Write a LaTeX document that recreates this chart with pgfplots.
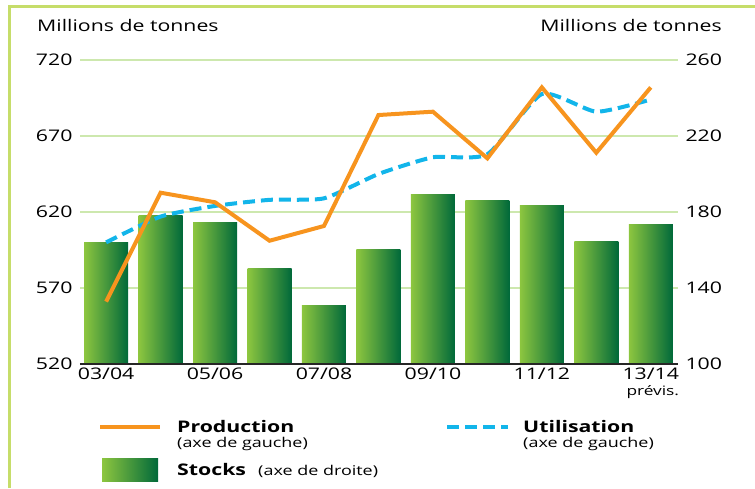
\documentclass[border=0pt]{standalone}
\usepackage{pgfplots}
\pgfplotsset{compat=1.18}
\usepackage{fontspec}
\setmainfont{Open Sans}[FakeStretch=1.33]
\definecolor{framegreen}{HTML}{C6DD6A}
\definecolor{gridgreen}{HTML}{CDE8AE}
\definecolor{stockL}{HTML}{8DC63F}
\definecolor{stockR}{HTML}{00693A}
\definecolor{prodorange}{HTML}{F7941E}
\definecolor{usecyan}{HTML}{12B5EA}
\newcommand{\lbl}{\fontsize{16}{19}\selectfont}
\newcommand{\sub}{\fontsize{13.5}{15}\selectfont}
\pgfplotsset{stk/.style={ybar, bar width=44pt, bar shift=0pt, draw=none,
    left color=stockL, right color=stockR}}

\begin{document}
\begin{tikzpicture}
\path[use as bounding box] (0pt,0pt) rectangle (755pt,-488pt);

% stocks, right axis
\begin{axis}[
    at={(80pt,-364pt)}, anchor=south west,
    scale only axis, width=598pt, height=304pt,
    xmin=-0.48, xmax=10.5,
    ymin=100, ymax=260, ytick={100,140,...,260},
    axis y line*=right, axis x line=none,
    y axis line style={draw=none},
    major tick length=0pt,
    ymajorgrids, grid style={gridgreen, line width=1.4pt},
    tick label style={font=\lbl},
    /pgf/number format/assume math mode=true,
    yticklabel style={xshift=4pt},
]
\addplot[stk] coordinates {(0,164.0)};
\addplot[stk] coordinates {(1,178.3)};
\addplot[stk] coordinates {(2,174.6)};
\addplot[stk] coordinates {(3,150.4)};
\addplot[stk] coordinates {(4,130.7)};
\addplot[stk] coordinates {(5,160.2)};
\addplot[stk] coordinates {(6,189.1)};
\addplot[stk] coordinates {(7,186.1)};
\addplot[stk] coordinates {(8,183.3)};
\addplot[stk] coordinates {(9,164.6)};
\addplot[stk] coordinates {(10,173.3)};
\end{axis}

% production and utilisation, left axis
\begin{axis}[
    at={(80pt,-364pt)}, anchor=south west,
    scale only axis, width=598pt, height=304pt,
    xmin=-0.48, xmax=10.5,
    ymin=520, ymax=720, ytick={520,570,...,720},
    axis y line*=left, axis x line*=bottom,
    y axis line style={draw=none},
    x axis line style={-, line width=2.4pt, black!85},
    major tick length=0pt,
    tick label style={font=\lbl},
    /pgf/number format/assume math mode=true,
    yticklabel style={xshift=-4pt},
    xtick={0,2,4,6,8,10},
    xticklabels={03/04,05/06,07/08,09/10,11/12,{13/14\\[-3pt]\fontsize{13}{14}\selectfont\hspace*{4pt}prévis.}},
    xticklabel style={align=center, yshift=0pt},
]
\addplot[usecyan, line width=4pt, dash pattern=on 12pt off 6pt, smooth, tension=0.35] coordinates {
    (0,600) (1,617) (2,624) (3,628) (4,629) (5,645)
    (6,656) (7,658) (8,697.6) (9,686) (10,694)
};
\addplot[prodorange, line width=4pt] coordinates {
    (0,561) (1,632.7) (2,626.4) (3,601.1) (4,610.8) (5,683.8)
    (6,686) (7,655.3) (8,702) (9,659) (10,702)
};
\end{axis}

\begin{scope}[x=1pt, y=-1pt]
% frame
\draw[framegreen, line width=3pt] (9,488) -- (9,6) -- (755,6);
% axis titles
\node[anchor=west, inner sep=0pt, font=\lbl] at (37,25) {Millions de tonnes};
\node[anchor=east, inner sep=0pt, font=\lbl] at (722,25) {Millions de tonnes};
% legend
\draw[prodorange, line width=4pt] (100,427) -- (160,427);
\node[anchor=base west, inner sep=0pt, font=\lbl\bfseries] at (177,432) {Production};
\node[anchor=base west, inner sep=0pt, font=\sub] at (177,447) {(axe de gauche)};
\draw[usecyan, line width=4pt, dash pattern=on 12pt off 6pt] (447,427) -- (508,427);
\node[anchor=base west, inner sep=0pt, font=\lbl\bfseries] at (523,432) {Utilisation};
\node[anchor=base west, inner sep=0pt, font=\sub] at (523,447) {(axe de gauche)};
\fill[left color=stockL, right color=stockR] (102,458) rectangle (158,481);
\node[anchor=base west, inner sep=0pt, font=\lbl\bfseries] at (177,475) {Stocks};
\node[anchor=base west, inner sep=0pt, font=\sub] at (258,475) {(axe de droite)};
\end{scope}
\end{tikzpicture}
\end{document}
